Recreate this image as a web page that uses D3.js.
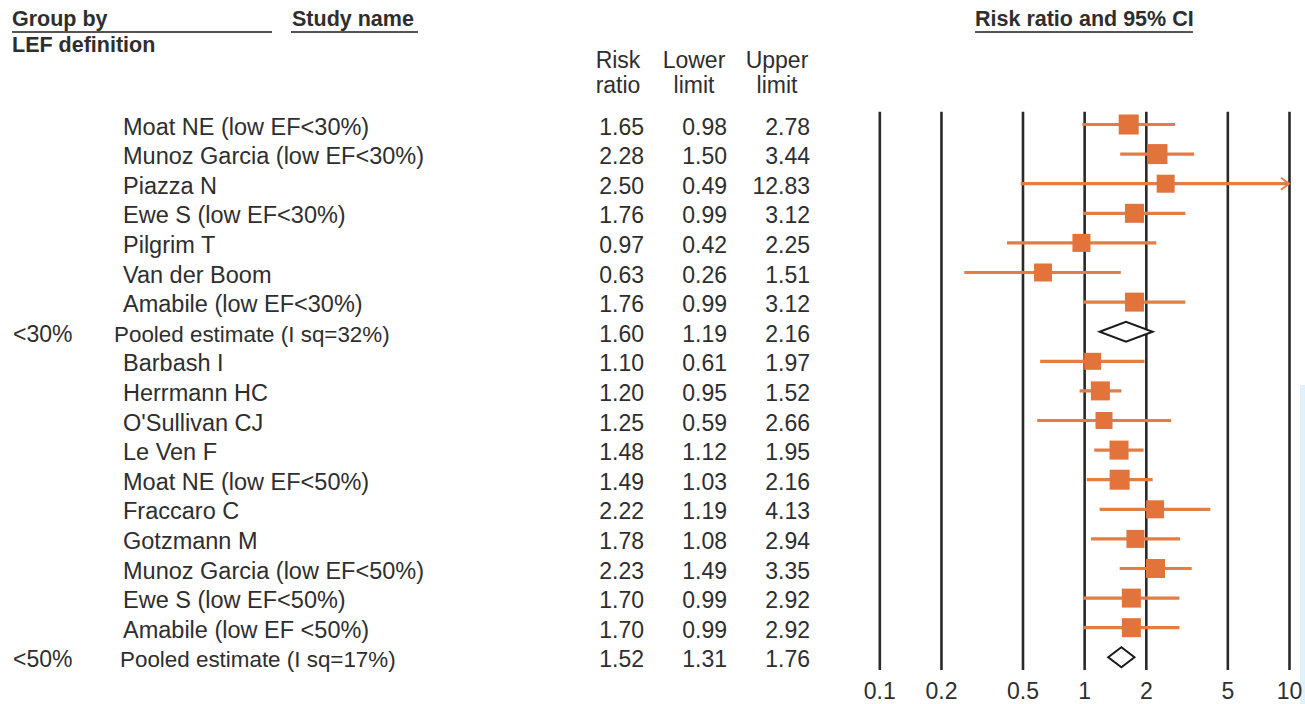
<!DOCTYPE html>
<html>
<head>
<meta charset="utf-8">
<script src="https://cdn.jsdelivr.net/npm/d3@7"></script>
<style>
  html, body { margin: 0; padding: 0; background: #fff; }
  svg { display: block; font-family: "Liberation Sans", Arial, sans-serif; }
</style>
</head>
<body>
<svg id="chart" width="1305" height="704"></svg>
<script>
// Forest plot: risk ratios with 95% CI, grouped by LEF definition

const studyNames = [
  "Moat NE (low EF<30%)", "Munoz Garcia (low EF<30%)", "Piazza N",
  "Ewe S (low EF<30%)", "Pilgrim T", "Van der Boom", "Amabile (low EF<30%)",
  "Pooled estimate (I sq=32%)",
  "Barbash I", "Herrmann HC", "O'Sullivan CJ", "Le Ven F",
  "Moat NE (low EF<50%)", "Fraccaro C", "Gotzmann M",
  "Munoz Garcia (low EF<50%)", "Ewe S (low EF<50%)", "Amabile (low EF <50%)",
  "Pooled estimate (I sq=17%)"
];
const groupLabels = ["", "", "", "", "", "", "", "<30%",
  "", "", "", "", "", "", "", "", "", "", "<50%"];
const rowKind = ["study", "study", "study", "study", "study", "study", "study", "pooled",
  "study", "study", "study", "study", "study", "study", "study", "study", "study", "study", "pooled"];

const riskRatio  = [1.65, 2.28, 2.50, 1.76, 0.97, 0.63, 1.76, 1.60,
  1.10, 1.20, 1.25, 1.48, 1.49, 2.22, 1.78, 2.23, 1.70, 1.70, 1.52];
const lowerLimit = [0.98, 1.50, 0.49, 0.99, 0.42, 0.26, 0.99, 1.19,
  0.61, 0.95, 0.59, 1.12, 1.03, 1.19, 1.08, 1.49, 0.99, 0.99, 1.31];
const upperLimit = [2.78, 3.44, 12.83, 3.12, 2.25, 1.51, 3.12, 2.16,
  1.97, 1.52, 2.66, 1.95, 2.16, 4.13, 2.94, 3.35, 2.92, 2.92, 1.76];
// relative study weight, shown as marker size
const studyWeight = [20, 20, 18, 19, 18, 18, 19, 0,
  17, 19, 17, 19, 20, 18, 18, 19, 19, 19, 0];

const axisTicks = [0.1, 0.2, 0.5, 1, 2, 5, 10];

const rows = studyNames.map((name, i) => ({
  name, group: groupLabels[i], kind: rowKind[i],
  rr: riskRatio[i], lo: lowerLimit[i], hi: upperLimit[i], w: studyWeight[i]
}));

const svg = d3.select("#chart");
const textColor = "#2e2e2e";
const orange = "#e2733a";
const orangeLine = "#e47d44";

const x = d3.scaleLog().domain([0.1, 10]).range([879.3, 1289]);
const y = d3.scaleLinear().domain([0, rows.length - 1]).range([124.5, 657.3]);

// page edge tint on the right
svg.append("rect").attr("x", 1300).attr("y", 385).attr("width", 5).attr("height", 319)
  .attr("fill", "#dff2fb");

// ---- headers ----
const hdr = svg.append("g").attr("font-weight", "bold").attr("font-size", 21.5).attr("fill", textColor);
hdr.append("text").attr("x", 12).attr("y", 26).text("Group by");
hdr.append("text").attr("x", 12).attr("y", 52).text("LEF definition");
hdr.append("text").attr("x", 292).attr("y", 26).text("Study name");
hdr.append("text").attr("x", 975).attr("y", 26).text("Risk ratio and 95% CI");

const rules = [[12, 272], [291, 418], [975, 1193]];
svg.append("g").selectAll("line").data(rules).join("line")
  .attr("x1", d => d[0]).attr("x2", d => d[1])
  .attr("y1", 32).attr("y2", 32)
  .attr("stroke", "#555").attr("stroke-width", 2);

const colHeads = [
  { cx: 618, l1: "Risk", l2: "ratio" },
  { cx: 694, l1: "Lower", l2: "limit" },
  { cx: 777, l1: "Upper", l2: "limit" }
];
const ch = svg.append("g").attr("font-size", 23).attr("fill", textColor).attr("text-anchor", "middle");
colHeads.forEach(c => {
  ch.append("text").attr("x", c.cx).attr("y", 68).text(c.l1);
  ch.append("text").attr("x", c.cx).attr("y", 93).text(c.l2);
});

// ---- row text ----
const txt = svg.append("g").attr("font-size", 23).attr("fill", textColor);
rows.forEach((r, i) => {
  const by = y(i) + 10;
  if (r.group) txt.append("text").attr("x", 13).attr("y", by).text(r.group);
  const isPooled = r.kind === "pooled";
  const nx = isPooled ? (i < 10 ? 114 : 120) : 123;
  txt.append("text").attr("x", nx).attr("y", by)
    .attr("font-size", isPooled ? 22.4 : 23.5).text(r.name);
  txt.append("text").attr("x", 644).attr("y", by).attr("text-anchor", "end").text(r.rr.toFixed(2));
  txt.append("text").attr("x", 727).attr("y", by).attr("text-anchor", "end").text(r.lo.toFixed(2));
  txt.append("text").attr("x", 810).attr("y", by).attr("text-anchor", "end").text(r.hi.toFixed(2));
});

// ---- axis with full-height grid lines ----
const axisY = 670;
const axis = d3.axisBottom(x)
  .tickValues(axisTicks)
  .tickFormat(d => String(d))
  .tickSize(-(axisY - 111.7))
  .tickPadding(13);
const ag = svg.append("g").attr("transform", `translate(0,${axisY})`).call(axis);
ag.select(".domain").remove();
ag.selectAll(".tick line").attr("stroke", "#2a2a2a").attr("stroke-width", 2.6);
ag.selectAll(".tick text").attr("font-size", 23).attr("fill", textColor)
  .attr("font-family", "Liberation Sans, Arial, sans-serif");

// ---- confidence intervals ----
const marks = svg.append("g");
const studies = rows.map((r, i) => ({ ...r, i })).filter(r => r.kind === "study");
const xMax = x.domain()[1];

marks.selectAll("line.ci").data(studies).join("line")
  .attr("class", "ci")
  .attr("x1", d => x(d.lo)).attr("x2", d => x(Math.min(d.hi, xMax)))
  .attr("y1", d => y(d.i)).attr("y2", d => y(d.i))
  .attr("stroke", orangeLine).attr("stroke-width", 3.2);

// arrow where the interval runs past the axis
marks.selectAll("path.arrow").data(studies.filter(d => d.hi > xMax)).join("path")
  .attr("class", "arrow")
  .attr("d", d => {
    const ax = x(xMax), ay = y(d.i);
    return `M${ax - 8},${ay - 6}L${ax},${ay}L${ax - 8},${ay + 6}`;
  })
  .attr("fill", "none").attr("stroke", orangeLine).attr("stroke-width", 2);

// point estimates
marks.selectAll("rect.pt").data(studies).join("rect")
  .attr("class", "pt")
  .attr("x", d => x(d.rr) - d.w / 2).attr("y", d => y(d.i) - d.w / 2)
  .attr("width", d => d.w).attr("height", d => d.w)
  .attr("fill", orange);

// pooled diamonds
const pooled = rows.map((r, i) => ({ ...r, i })).filter(r => r.kind === "pooled");
marks.selectAll("path.pooled").data(pooled).join("path")
  .attr("class", "pooled")
  .attr("d", d => {
    const cy = y(d.i), h = 10;
    return `M${x(d.lo)},${cy}L${x(d.rr)},${cy - h}L${x(d.hi)},${cy}L${x(d.rr)},${cy + h}Z`;
  })
  .attr("fill", "#fff").attr("stroke", "#1a1a1a").attr("stroke-width", 2);
</script>
</body>
</html>
